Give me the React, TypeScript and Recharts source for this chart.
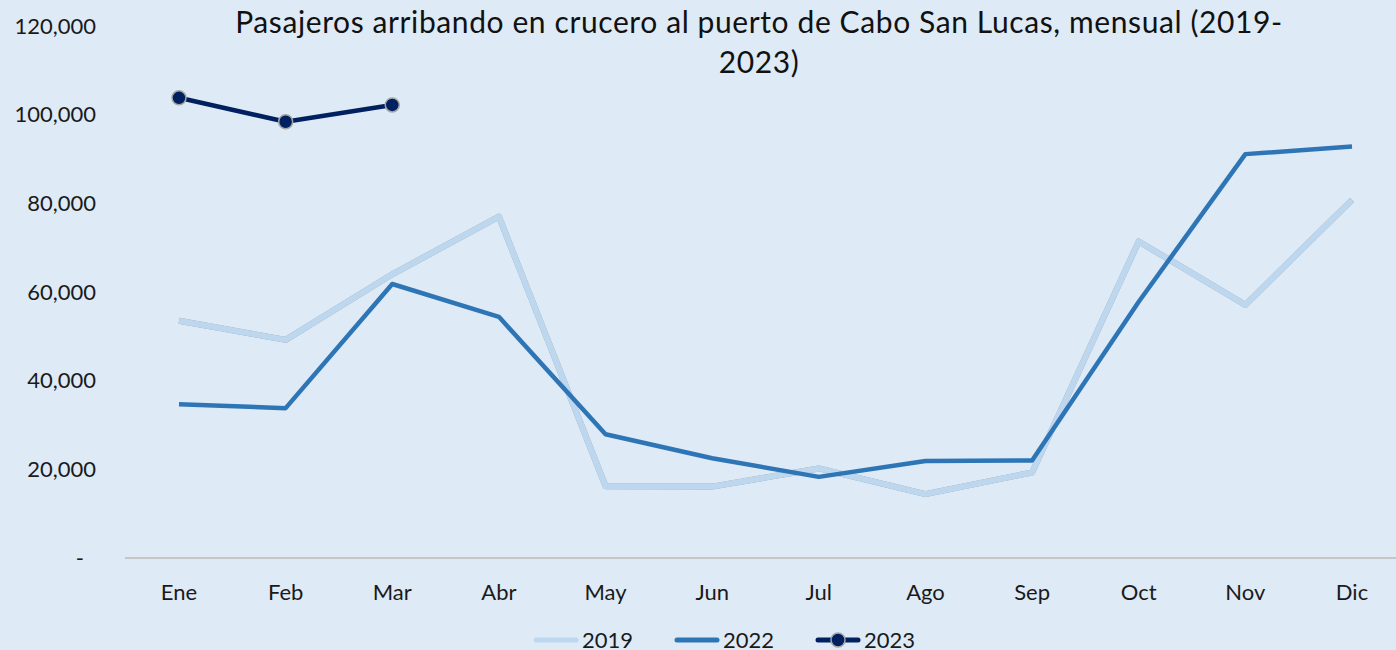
import { LineChart, Line, XAxis, YAxis, Legend } from 'recharts';

const months = ['Ene', 'Feb', 'Mar', 'Abr', 'May', 'Jun', 'Jul', 'Ago', 'Sep', 'Oct', 'Nov', 'Dic'];
const y2019 = [53500, 49200, 64000, 77000, 16200, 16100, 20200, 14400, 19300, 71400, 57100, 80800];
const y2022 = [34700, 33800, 61800, 54400, 27900, 22500, 18300, 21900, 22000, 57800, 91100, 92800];
const y2023 = [103800, 98400, 102200];
const yTicks = [0, 20000, 40000, 60000, 80000, 100000, 120000];

const chartData = months.map((m, i) => ({
  month: m,
  y2019: y2019[i],
  y2022: y2022[i],
  y2023: i < y2023.length ? y2023[i] : null,
}));

const FONT = 'Lato, "Open Sans", sans-serif';
const BG = '#deeaf6';

function YTick({ x, y, payload }: any) {
  const zero = payload.value === 0;
  return (
    <text x={zero ? x - 12 : x} y={y} dy="0.35em" textAnchor="end" fontSize={22} fill="#1a1a1a" fontFamily={FONT}>
      {zero ? '-' : payload.value.toLocaleString('en-US')}
    </text>
  );
}

function LegendBox() {
  const items = [
    { x: 0, label: '2019', color: '#bdd7ee', dot: false },
    { x: 141, label: '2022', color: '#2e75b6', dot: false },
    { x: 282, label: '2023', color: '#002060', dot: true },
  ];
  return (
    <svg width={400} height={30}>
      {items.map((it) => (
        <g key={it.label}>
          <line x1={it.x + 2} y1={15} x2={it.x + 42} y2={15} stroke={it.color} strokeWidth={5} strokeLinecap="round" />
          {it.dot && <circle cx={it.x + 22} cy={15} r={7} fill={it.color} stroke="#a6a6a6" strokeWidth={1.5} />}
          <text x={it.x + 48} y={15} dy="0.36em" fontSize={22} fill="#1a1a1a" fontFamily={FONT}>
            {it.label}
          </text>
        </g>
      ))}
    </svg>
  );
}

export default function App() {
  return (
    <div style={{ position: 'fixed', left: 0, top: 0, width: 1396, height: 650, overflow: 'hidden', background: BG }}>
      <div
        style={{
          position: 'absolute',
          left: 159,
          top: 1,
          width: 1200,
          textAlign: 'center',
          fontFamily: FONT,
          fontSize: 30,
          letterSpacing: 0.6,
          lineHeight: '40px',
          color: '#111',
          whiteSpace: 'nowrap',
        }}
      >
        Pasajeros arribando en crucero al puerto de Cabo San Lucas, mensual (2019-
        <br />
        2023)
      </div>
      <LineChart width={1410} height={655} data={chartData} margin={{ top: 26, right: 4, left: 0, bottom: 0 }}>
        <XAxis
          dataKey="month"
          height={67}
          padding={{ left: 54, right: 54 }}
          tickLine={false}
          tickMargin={20}
          stroke="#c6c6c6"
          strokeWidth={2}
          tick={{ fontSize: 22, fill: '#1a1a1a', fontFamily: FONT }}
        />
        <YAxis
          width={125}
          domain={[0, 120000]}
          ticks={yTicks}
          axisLine={false}
          tickLine={false}
          tickMargin={23}
          tick={<YTick />}
        />
        <Legend
          verticalAlign="bottom"
          height={30}
          content={() => <LegendBox />}
          wrapperStyle={{ left: 534, width: 400 }}
        />
        <Line
          dataKey="y2019"
          name="2019"
          stroke="#bdd7ee"
          strokeWidth={6}
          strokeLinejoin="round"
          dot={false}
          style={{ filter: 'drop-shadow(0 0 0.7px rgba(0,0,0,0.35))' }}
          isAnimationActive={false}
        />
        <Line
          dataKey="y2022"
          name="2022"
          stroke="#2e75b6"
          strokeWidth={4.5}
          strokeLinejoin="round"
          dot={false}
          isAnimationActive={false}
        />
        <Line
          dataKey="y2023"
          name="2023"
          stroke="#002060"
          strokeWidth={4.5}
          strokeLinejoin="round"
          dot={{ r: 7, fill: '#002060', stroke: '#a6a6a6', strokeWidth: 1.5 }}
          isAnimationActive={false}
        />
      </LineChart>
    </div>
  );
}
